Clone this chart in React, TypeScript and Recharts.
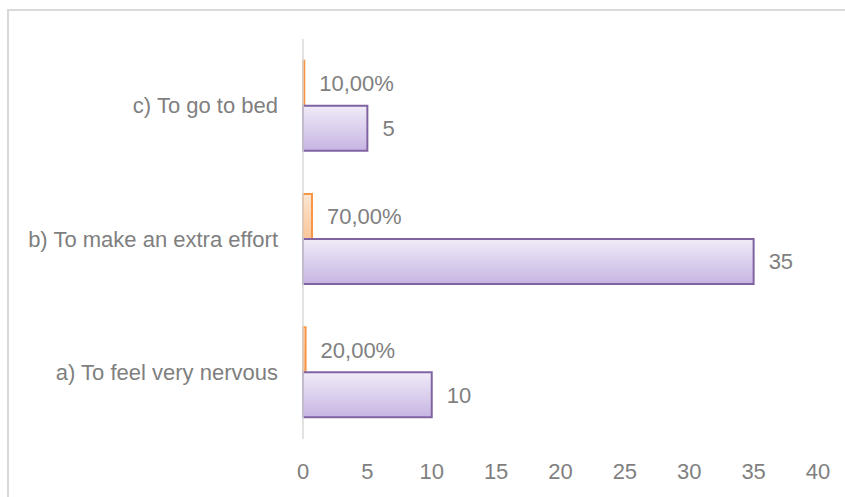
import React from "react"
import { BarChart, Bar, XAxis, YAxis, LabelList } from "recharts"

const CATEGORIES = ["a) To feel very nervous", "b) To make an extra effort", "c) To go to bed"]
const SHARES = [0.2, 0.7, 0.1]
const COUNTS = [10, 35, 5]
const X_TICKS = [0, 5, 10, 15, 20, 25, 30, 35, 40]

const data = CATEGORIES.map((name, i) => ({ name, share: SHARES[i], count: COUNTS[i] }))

const FONT = "'Liberation Sans', Arial, sans-serif"
const TEXT = "#7f7f7f"

const pct = (v: any) => `${(Number(v) * 100).toFixed(2).replace(".", ",")}%`

export default function App() {
  return (
    <div style={{ position: "absolute", left: 0, top: 0, width: 845, height: 497, overflow: "hidden", background: "#fff" }}>
      <div
        style={{
          position: "absolute",
          left: 7,
          top: 9,
          width: 900,
          height: 600,
          border: "2px solid #d9d9d9",
          boxSizing: "border-box",
        }}
      />
      <div style={{ position: "absolute", left: 0, top: 0 }}>
        <BarChart
          width={845}
          height={497}
          data={data}
          layout="vertical"
          margin={{ top: 39, right: 27, left: 0, bottom: 28 }}
          barCategoryGap="16.25%"
          barGap={0}
          style={{ fontFamily: FONT }}
        >
          <defs>
            <linearGradient id="purpleFill" x1="0" y1="0" x2="0" y2="1">
              <stop offset="0%" stopColor="#f0ebf8" />
              <stop offset="100%" stopColor="#c7b5e3" />
            </linearGradient>
            <linearGradient id="orangeFill" x1="0" y1="0" x2="0" y2="1">
              <stop offset="0%" stopColor="#fde6d2" />
              <stop offset="100%" stopColor="#fac598" />
            </linearGradient>
          </defs>
          <XAxis
            type="number"
            domain={[0, 40]}
            ticks={X_TICKS}
            axisLine={false}
            tickLine={false}
            tickSize={0}
            tickMargin={24}
            height={30}
            tick={{ fill: TEXT, fontSize: 22, fontFamily: FONT }}
          />
          <YAxis
            type="category"
            dataKey="name"
            reversed
            width={303}
            axisLine={{ stroke: "#d9d9d9", strokeWidth: 1.5 }}
            tickLine={false}
            tickSize={0}
            tickMargin={25}
            tick={{ fill: TEXT, fontSize: 22, fontFamily: FONT }}
          />
          <Bar dataKey="share" fill="url(#orangeFill)" stroke="#f79646" strokeWidth={2} isAnimationActive={false}>
            <LabelList
              dataKey="share"
              position="right"
              offset={15}
              formatter={pct}
              style={{ fill: TEXT, fontSize: 22, fontFamily: FONT }}
            />
          </Bar>
          <Bar dataKey="count" fill="url(#purpleFill)" stroke="#8064a2" strokeWidth={2} isAnimationActive={false}>
            <LabelList
              dataKey="count"
              position="right"
              offset={15}
              style={{ fill: TEXT, fontSize: 22, fontFamily: FONT }}
            />
          </Bar>
        </BarChart>
      </div>
    </div>
  )
}
